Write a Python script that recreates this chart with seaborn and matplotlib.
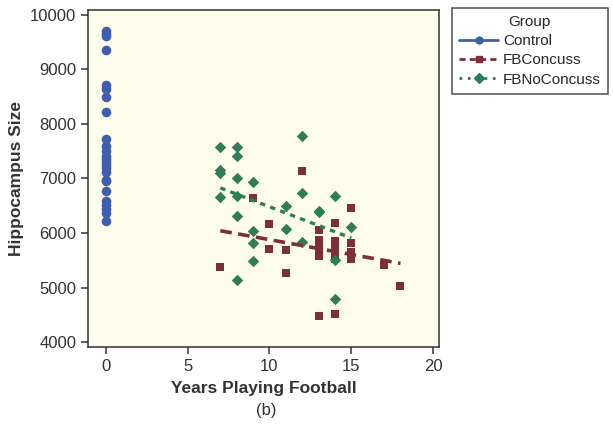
import numpy as np
import pandas as pd
import matplotlib
matplotlib.use("Agg")
import matplotlib.pyplot as plt
from matplotlib.lines import Line2D
import seaborn as sns

# Hippocampus size by years playing football, three groups
control_size = [9700, 9650, 9620, 9360, 8720, 8650, 8500, 8220, 7720, 7600,
                7500, 7420, 7350, 7300, 7250, 7190, 7120, 6980, 6950, 6770,
                6590, 6510, 6440, 6360, 6220]

concuss_years = [7, 9, 10, 10, 11, 11, 12, 13, 13, 13, 13, 13, 13,
                 14, 14, 14, 14, 14, 14, 15, 15, 15, 15, 17, 18]
concuss_size = [5380, 6640, 6170, 5710, 5680, 5270, 7140, 6060, 5870, 5760, 5660, 5580, 4470,
                6190, 5850, 5760, 5620, 5530, 4520, 6460, 5810, 5660, 5530, 5420, 5030]

noconcuss_years = [7, 7, 7, 7, 8, 8, 8, 8, 8, 8, 9, 9, 9, 9,
                   11, 11, 12, 12, 12, 13, 13, 14, 14, 14, 15]
noconcuss_size = [7580, 7160, 7100, 6660, 7580, 7410, 7010, 6680, 6310, 5140,
                  6940, 6040, 5820, 5490, 6500, 6070, 7780, 6730, 5840, 6400,
                  6380, 6680, 5510, 4790, 6110]

groups = ["Control", "FBConcuss", "FBNoConcuss"]
colors = {"Control": "#3F5FAE", "FBConcuss": "#7C2F36", "FBNoConcuss": "#2F7D58"}
markers = {"Control": "o", "FBConcuss": "s", "FBNoConcuss": "D"}

df = pd.DataFrame({
    "Years": [0] * len(control_size) + concuss_years + noconcuss_years,
    "Size": control_size + concuss_size + noconcuss_size,
    "Group": ["Control"] * len(control_size)
             + ["FBConcuss"] * len(concuss_size)
             + ["FBNoConcuss"] * len(noconcuss_size),
})

sns.set_style("ticks")
plt.rcParams["font.family"] = ["Liberation Sans", "DejaVu Sans"]

fig = plt.figure(figsize=(6.13, 4.34), dpi=100)
ax = fig.add_axes([0.1436, 0.2005, 0.5725, 0.7765])
ax.set_facecolor("#FEFDEB")

sizes = {"Control": 48, "FBConcuss": 38, "FBNoConcuss": 34}
for g in groups:
    sub = df[df["Group"] == g]
    sns.scatterplot(data=sub, x="Years", y="Size", color=colors[g],
                    marker=markers[g], s=sizes[g], linewidth=0, ax=ax,
                    legend=False, zorder=3)

# fitted lines for the two football groups
sns.regplot(data=df[df["Group"] == "FBConcuss"], x="Years", y="Size",
            scatter=False, ci=None, truncate=True, ax=ax,
            line_kws=dict(color=colors["FBConcuss"], lw=2.6,
                          linestyle=(0, (3.2, 1.8)), zorder=4))
sns.regplot(data=df[df["Group"] == "FBNoConcuss"], x="Years", y="Size",
            scatter=False, ci=None, truncate=True, ax=ax,
            line_kws=dict(color=colors["FBNoConcuss"], lw=2.4,
                          linestyle=(0, (1.6, 1.6)), zorder=4))

ax.set_xlim(-1.08, 20.35)
ax.set_ylim(3910, 10090)
ax.set_xticks([0, 5, 10, 15, 20])
ax.set_yticks([4000, 5000, 6000, 7000, 8000, 9000, 10000])
ax.tick_params(axis="both", labelsize=12, length=5, width=1.1,
               color="#333333", labelcolor="#333333", direction="out")
for sp in ax.spines.values():
    sp.set_visible(True)
    sp.set_color("#333333")
    sp.set_linewidth(1.1)

ax.set_xlabel("Years Playing Football", fontsize=12.5, fontweight="bold",
              color="#333333", labelpad=5)
ax.set_ylabel("Hippocampus Size", fontsize=12.5, fontweight="bold",
              color="#333333", labelpad=4)
fig.text(0.434, 0.055, "(b)", fontsize=12, color="#333333",
         ha="center", va="center")

handles = [
    Line2D([], [], color=colors["Control"], marker="o", markersize=5,
           lw=2, linestyle="-"),
    Line2D([], [], color=colors["FBConcuss"], marker="s", markersize=5,
           lw=2, linestyle=(0, (2.2, 1.5))),
    Line2D([], [], color=colors["FBNoConcuss"], marker="D", markersize=5,
           lw=2, linestyle=(0, (1, 2))),
]
leg = fig.legend(handles, groups, title="Group", loc="upper left",
                 bbox_to_anchor=(0.737, 0.982), fontsize=11, title_fontsize=11,
                 frameon=True, fancybox=False, edgecolor="#222222",
                 handlelength=2.6, handletextpad=0.3, borderpad=0.45,
                 labelspacing=0.35, borderaxespad=0)
leg.get_frame().set_linewidth(1.1)

fig.savefig("out.png", dpi=100, facecolor="white")
